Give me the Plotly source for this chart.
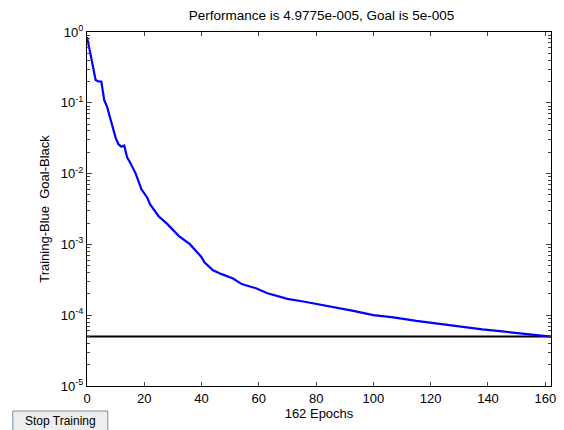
import plotly.graph_objects as go

epochs = [0, 1, 2, 3, 4, 5, 6, 7, 8, 9, 10, 11, 12, 13, 14, 15, 17, 19, 21, 22, 25, 28, 32, 36,
          40, 41, 44, 47, 51, 54, 59, 63, 67, 70, 76, 80, 85, 93, 100, 107, 115, 122, 131, 138,
          145, 152, 158, 162]
perf = [0.85, 0.56, 0.34, 0.21, 0.20, 0.20, 0.11, 0.088, 0.063, 0.043, 0.032, 0.026, 0.024, 0.025,
        0.017, 0.0145, 0.010, 0.006, 0.0046, 0.0037, 0.0025, 0.00195, 0.00132, 0.001, 0.00066,
        0.00056, 0.00043, 0.00038, 0.00033, 0.000275, 0.00024, 0.000204, 0.000186, 0.00017,
        0.000155, 0.000145, 0.000132, 0.000115, 0.0001, 9.3e-5, 8.3e-5, 7.6e-5, 6.9e-5, 6.3e-5,
        5.9e-5, 5.5e-5, 5.1e-5, 4.9775e-5]
goal = 5e-5
goal_x = [0, 162]

x_ticks = [0, 20, 40, 60, 80, 100, 120, 140, 160]
y_ticks = [1e-5, 1e-4, 1e-3, 1e-2, 1e-1, 1]
y_ticktext = ["10<sup>-5</sup>", "10<sup>-4</sup>", "10<sup>-3</sup>", "10<sup>-2</sup>",
              "10<sup>-1</sup>", "10<sup>0</sup>"]
minor_vals = [m * 10 ** e for e in range(-5, 0) for m in range(2, 10)]

font = "Liberation Sans, Arial, sans-serif"

# page body has an 8px margin; figure sized so the plot lands where the reference's does
W, H = 556, 422
L, R, T, B = 79, 8, 24, 44
PW, PH = W - L - R, H - T - B


def px(x):
    return (x - L) / PW


def py(y):
    return (H - B - y) / PH


fig = go.Figure()
fig.add_trace(go.Scatter(x=goal_x, y=[goal, goal], mode="lines",
                         line=dict(color="black", width=2), showlegend=False))
fig.add_trace(go.Scatter(x=epochs, y=perf, mode="lines",
                         line=dict(color="#0000ff", width=2.2), showlegend=False))

fig.update_layout(
    width=W, height=H,
    margin=dict(l=L, r=R, t=T, b=B),
    paper_bgcolor="white", plot_bgcolor="white",
    font=dict(family=font, size=13, color="black"),
    title=dict(text="Performance is 4.9775e-005, Goal is 5e-005", x=(L + PW / 2) / W,
               xanchor="center", y=1 - 7 / H, yanchor="middle",
               font=dict(size=13.5, family=font)),
    xaxis=dict(range=[0, 162], tickvals=x_ticks, ticks="inside", ticklen=4,
               showline=True, linecolor="black", linewidth=1, mirror="ticks",
               showgrid=False, zeroline=False, tickfont=dict(size=13),
               title=dict(text="162 Epochs", standoff=4, font=dict(size=13))),
    yaxis=dict(type="log", range=[-5, 0], tickvals=y_ticks, ticktext=y_ticktext,
               ticks="inside", ticklen=5, showline=True, linecolor="black", linewidth=1,
               mirror="ticks", showgrid=False, zeroline=False, tickfont=dict(size=13),
               minor=dict(tickvals=minor_vals, ticks="inside", ticklen=3, showgrid=False),
               title=dict(text="Training-Blue  Goal-Black", standoff=8, font=dict(size=13))),
)

fig.add_shape(type="rect", xref="paper", yref="paper",
              x0=px(4), x1=px(100), y0=py(424), y1=py(403),
              line=dict(color="#7a8fa6", width=1), fillcolor="#eeeeee", layer="above")
fig.add_annotation(text="Stop Training", xref="paper", yref="paper",
                   x=px(52), y=py(413), showarrow=False,
                   font=dict(size=12, family=font), xanchor="center", yanchor="middle")

fig.write_html("out.html")
